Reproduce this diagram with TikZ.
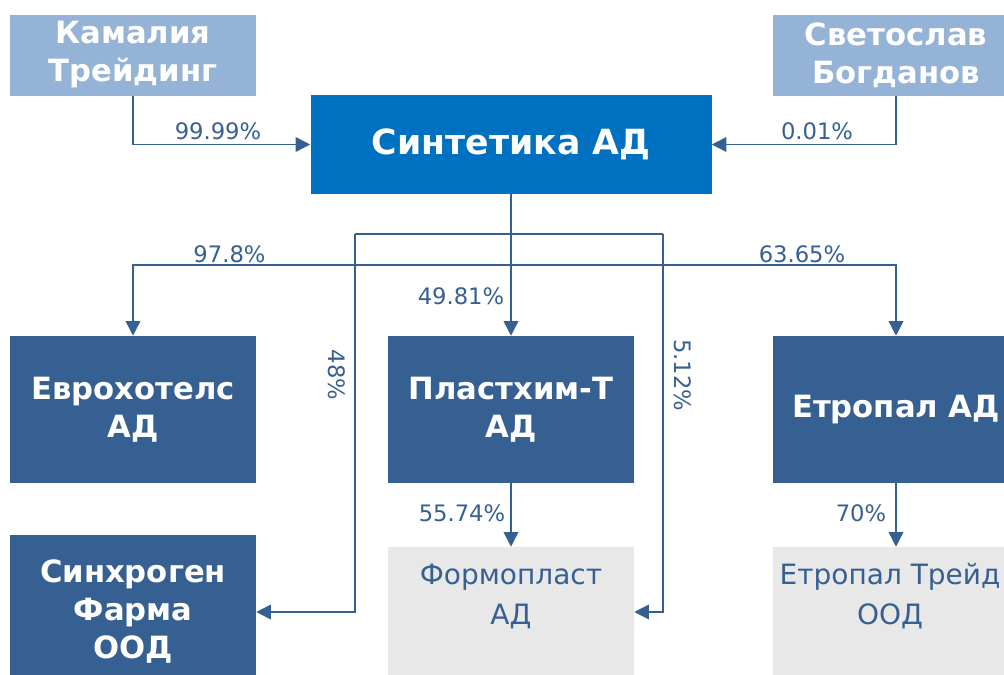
\documentclass[tikz,border=0pt]{standalone}
\usepackage{fontspec}
\setmainfont{DejaVu Sans}
\usetikzlibrary{arrows.meta}

\definecolor{owner}{HTML}{95B3D7}
\definecolor{parent}{HTML}{0070C0}
\definecolor{subsid}{HTML}{376092}
\definecolor{minor}{HTML}{E8E8E8}

\tikzset{
  firm/.style={rectangle, inner sep=0pt, align=center, text=white,
    font=\bfseries\fontsize{23}{28.5}\selectfont},
  ownerbox/.style={firm, fill=owner, minimum width=184.5pt, minimum height=60.75pt},
  parentbox/.style={firm, fill=parent, minimum width=300.75pt, minimum height=74.25pt,
    font=\bfseries\fontsize{26}{30}\selectfont},
  subbox/.style={firm, fill=subsid, minimum width=184.5pt, minimum height=110.25pt},
  minorbox/.style={rectangle, fill=minor, minimum width=184.5pt, minimum height=97.5pt},
  minortext/.style={align=center, text=subsid, font=\fontsize{21}{30}\selectfont},
  pct/.style={text=subsid, font=\fontsize{17}{19}\selectfont, inner sep=0pt},
  conn/.style={draw=subsid, line width=1.1pt, -{Triangle[length=11pt,width=11pt]}},
  link/.style={draw=subsid, line width=1.1pt}
}

\begin{document}
\begin{tikzpicture}[x=0.75pt, y=-0.75pt]
    \useasboundingbox (0,0) rectangle (1004,675);

    % owners
    \node (kam) [ownerbox] at (133,55) {Камалия\\Трейдинг};
    \node (svet) [ownerbox] at (896,55) {Светослав\\Богданов};
    \node (sint) [parentbox] at (511,144.5) {Синтетика АД};

    % subsidiaries
    \node (evro) [subbox] at (133,409.5) {Еврохотелс\\АД};
    \node (plast) [subbox] at (511,409.5) {Пластхим-Т\\АД};
    \node (etro) [subbox] at (896,409.5) {Етропал АД};
    \node (sinh) [subbox, minimum height=115.5pt] at (133,612) {Синхроген\\Фарма\\ООД};
    \node (formo) [minorbox] at (511,612) {};
    \node (etrot) [minorbox] at (896,612) {};
    \node (formotext) [minortext] at (511,596) {Формопласт\\АД};
    \node (etrottext) [minortext] at (890,596) {Етропал Трейд\\ООД};

    \coordinate (split1) at (511,234);
    \coordinate (split2) at (511,265);
    \coordinate (bendA) at (355,234);
    \coordinate (bendB) at (663,234);

    \draw[conn] (kam.south) |- (sint.west);
    \draw[conn] (svet.south) |- (sint.east);
    \draw[conn] (sint.south) -- (plast.north);
    \draw[conn] (split2) -| (evro.north);
    \draw[conn] (split2) -| (etro.north);
    \draw[link] (split1) -- (bendA);
    \draw[conn] (bendA) |- (sinh.east);
    \draw[link] (split1) -- (bendB);
    \draw[conn] (bendB) |- (formo.east);
    \draw[conn] (plast.south) -- (formo.north);
    \draw[conn] (etro.south) -- (etrot.north);

    % shares
    \node (p1) [pct] at (218,131) {99.99\%};
    \node (p2) [pct] at (817,131) {0.01\%};
    \node (p3) [pct] at (229.5,254) {97.8\%};
    \node (p4) [pct] at (802,254) {63.65\%};
    \node (p5) [pct] at (461,296) {49.81\%};
    \node (p6) [pct, rotate=-90] at (337,375) {48\%};
    \node (p7) [pct, rotate=-90] at (683,375) {5.12\%};
    \node (p8) [pct] at (462,513) {55.74\%};
    \node (p9) [pct] at (861,513) {70\%};
\end{tikzpicture}
\end{document}
